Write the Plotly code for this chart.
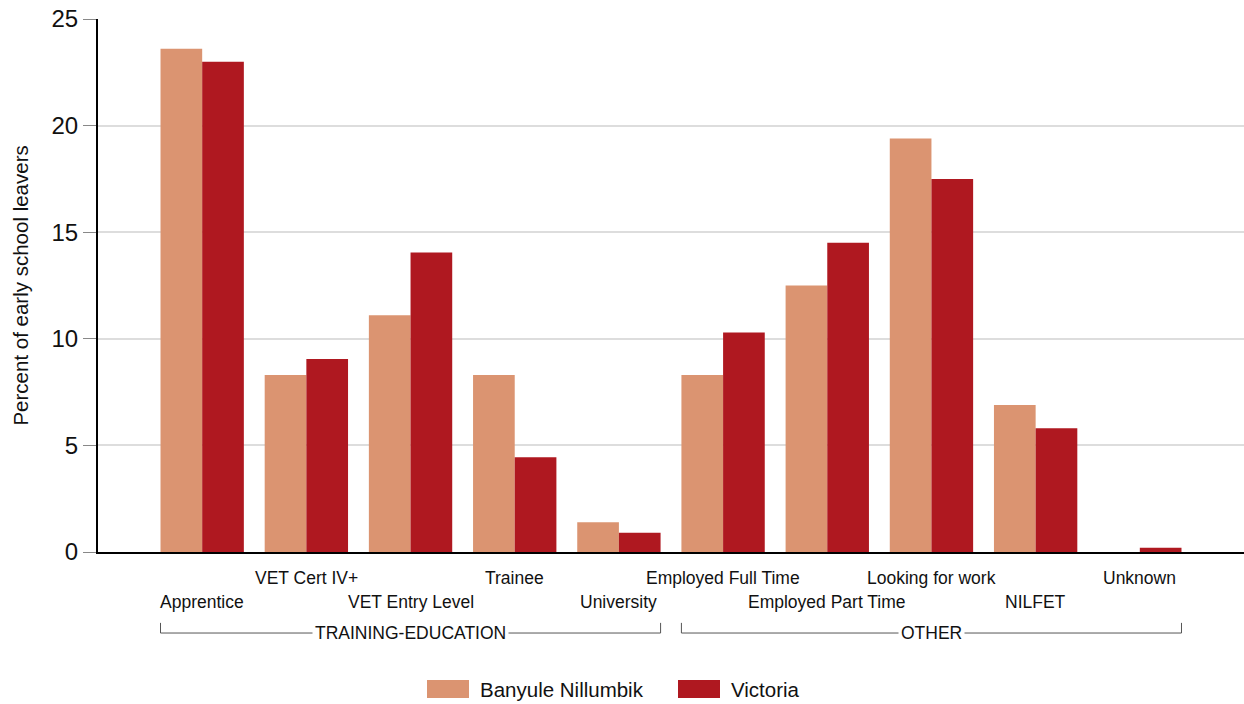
import plotly.graph_objects as go

categories = ["Apprentice", "VET Cert IV+", "VET Entry Level", "Trainee", "University",
              "Employed Full Time", "Employed Part Time", "Looking for work", "NILFET", "Unknown"]
banyule = [23.6, 8.3, 11.1, 8.3, 1.4, 8.3, 12.5, 19.4, 6.9, 0.0]
victoria = [23.0, 9.05, 14.05, 4.45, 0.9, 10.3, 14.5, 17.5, 5.8, 0.2]
groups = [("TRAINING-EDUCATION", 0, 4), ("OTHER", 5, 9)]
series_names = ["Banyule Nillumbik", "Victoria"]
colors = ["#DB9471", "#AF1820"]
y_ticks = [0, 5, 10, 15, 20, 25]

FONT = "Liberation Sans, Arial, sans-serif"
xs = list(range(len(categories)))

W, H = 1244, 704
L, T, B = 98, 19, 704 - 552

fig = go.Figure()
for name, vals, col in zip(series_names, [banyule, victoria], colors):
    fig.add_trace(go.Bar(x=xs, y=vals, name=name, marker=dict(color=col, line=dict(width=0)),
                         showlegend=False, hovertemplate="%{y}<extra>" + name + "</extra>"))

annotations = []
shapes = []
# staggered category labels
for i, c in enumerate(categories):
    annotations.append(dict(x=i, y=-0.0488 if i % 2 else -0.0938, xref="x", yref="paper",
                            text=c, showarrow=False, xanchor="center", yanchor="middle",
                            font=dict(size=17.5, color="#111", family=FONT)))
# group brackets
for label, a, b in groups:
    x0, x1 = a - 0.4, b + 0.4
    yl, yt = -0.152, -0.133
    shapes.append(dict(type="line", xref="x", yref="paper", x0=x0, x1=x1, y0=yl, y1=yl,
                       line=dict(color="#555", width=1)))
    for xx in (x0, x1):
        shapes.append(dict(type="line", xref="x", yref="paper", x0=xx, x1=xx, y0=yl, y1=yt,
                           line=dict(color="#555", width=1)))
    annotations.append(dict(x=(a + b) / 2, y=yl, xref="x", yref="paper", text=label,
                            showarrow=False, xanchor="center", yanchor="middle",
                            bgcolor="white", borderpad=2,
                            font=dict(size=17.5, color="#111", family=FONT)))
# y title
annotations.append(dict(x=-0.068, y=0.5, xref="paper", yref="paper",
                        text="Percent of early school leavers", textangle=-90,
                        showarrow=False, xanchor="center", yanchor="middle",
                        font=dict(size=20.5, color="#111", family=FONT)))
# custom legend (positions in reference page pixels)
def px(x):
    return (x - 98) / 1146
def py(y):
    return (552 - y) / (552 - 19)
leg = [(427, 469, 478), (678, 720, 729)]
for (sx0, sx1, tx), name, col in zip(leg, series_names, colors):
    shapes.append(dict(type="rect", xref="paper", yref="paper", x0=px(sx0), x1=px(sx1),
                       y0=py(698), y1=py(680), fillcolor=col, line=dict(width=0)))
    annotations.append(dict(x=px(tx), y=py(689), xref="paper", yref="paper", text=name,
                            showarrow=False, xanchor="left", yanchor="middle",
                            font=dict(size=20.5, color="#111", family=FONT)))

fig.update_layout(
    width=W, height=H,
    margin=dict(l=L, r=0, t=T, b=B, pad=0, autoexpand=False),
    paper_bgcolor="white", plot_bgcolor="white",
    barmode="group", bargap=0.2, bargroupgap=0,
    font=dict(family=FONT, color="#111"),
    xaxis=dict(range=[-1, 10], showticklabels=False, ticks="", showgrid=False, automargin=False,
               showline=True, linecolor="black", linewidth=2, zeroline=False, fixedrange=True),
    yaxis=dict(range=[0, 25], tickvals=y_ticks, ticks="outside", ticklen=13, tickcolor="#888",
               tickwidth=1, tickfont=dict(size=24, color="#111", family=FONT),
               ticklabeloverflow="allow", automargin=False,
               showgrid=True, gridcolor="#DDDDDD", gridwidth=2,
               showline=True, linecolor="black", linewidth=2, zeroline=False),
    annotations=annotations, shapes=shapes,
)

fig.write_html("out.html", config={"displayModeBar": False},
               post_script="document.body.style.margin='0';document.body.style.overflow='hidden';")
